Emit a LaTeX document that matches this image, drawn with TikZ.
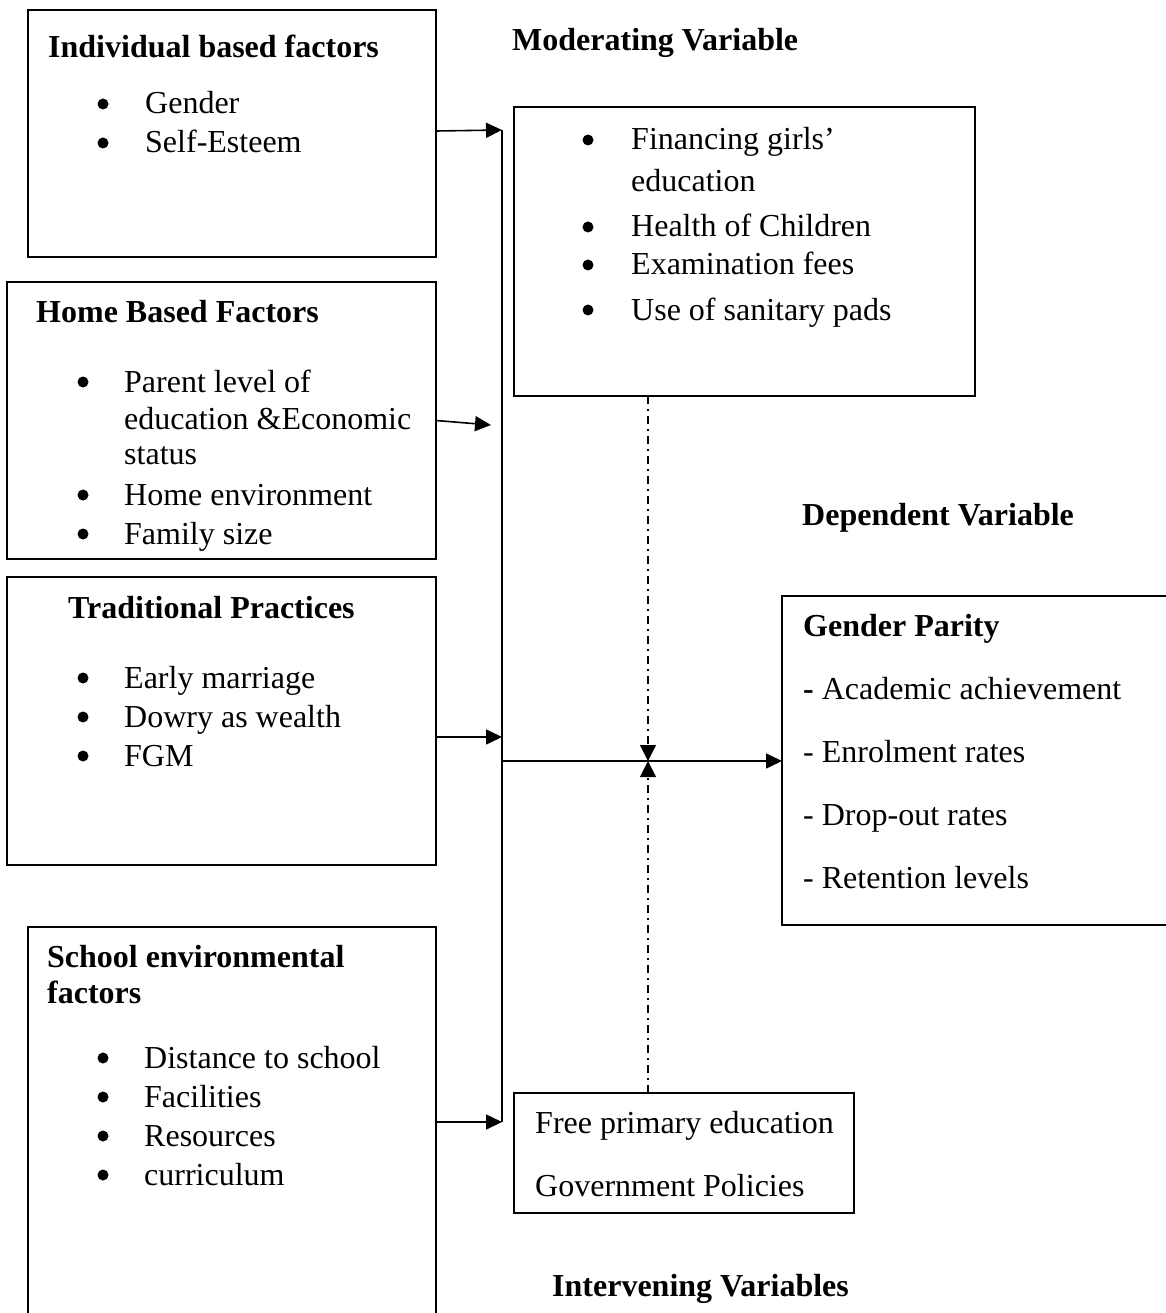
\documentclass[tikz,border=0pt]{standalone}
\usepackage{fontspec}
\setmainfont{Liberation Serif}
\usetikzlibrary{arrows.meta,calc}
\begin{document}
\begin{tikzpicture}[x=1pt,y=-1pt,
  box/.style={draw,line width=1.8pt,rectangle,anchor=north west,inner sep=0pt,outer sep=0pt},
  txt/.style={anchor=base west,inner sep=0pt,font=\fontsize{32}{38}\selectfont},
  ttl/.style={anchor=base west,inner sep=0pt,font=\fontsize{32}{38}\selectfont\bfseries},
  bul/.style={circle,fill,inner sep=0pt,minimum size=11pt,yshift=10pt},
  conn/.style={line width=1.6pt},
  arr/.style={line width=1.6pt,-{Triangle[length=16pt,width=15pt]}},
  dd/.style={line width=1.2pt,dash pattern=on 8pt off 5pt on 2pt off 5pt,-{Triangle[length=16pt,width=16pt]}}]
\useasboundingbox (0,0) rectangle (1165,1313);

% boxes
\node[box,minimum width=408pt,minimum height=247pt] (indiv) at (28,10) {};
\node[box,minimum width=429pt,minimum height=277pt] (home) at (7,282) {};
\node[box,minimum width=429pt,minimum height=288pt] (trad) at (7,577) {};
\node[box,minimum width=408pt,minimum height=400pt] (school) at (28,927) {};
\node[box,minimum width=461pt,minimum height=289pt] (mod) at (514,107) {};
\node[box,minimum width=390pt,minimum height=329pt] (gp) at (782,596) {};
\node[box,minimum width=340pt,minimum height=120pt] (free) at (514,1093) {};

% headings
\node[ttl] (tmod) at (512,51) {Moderating Variable};
\node[ttl] (tdep) at (802,525) {Dependent Variable};
\node[ttl] (tint) at (552,1296) {Intervening Variables};

% individual
\node[ttl] (i0) at (48,58) {Individual based factors};
\node[bul] (ib1) at (103,114) {};
\node[txt] (i1) at (145,114) {Gender};
\node[bul] (ib2) at (103,153) {};
\node[txt] (i2) at (145,153) {Self-Esteem};

% moderating
\node[bul] (mb1) at (588,150) {};
\node[txt] (m1) at (631,150) {Financing girls’};
\node[txt] (m1b) at (631,192) {education};
\node[bul] (mb2) at (588,237) {};
\node[txt] (m2) at (631,237) {Health of Children};
\node[bul] (mb3) at (588,275) {};
\node[txt] (m3) at (631,275) {Examination fees};
\node[bul] (mb4) at (588,320) {};
\node[txt] (m4) at (631,320) {Use of sanitary pads};

% home
\node[ttl] (h0) at (36,322) {Home Based Factors};
\node[bul] (hb1) at (83,392) {};
\node[txt] (h1) at (124,392) {Parent level of};
\node[txt] (h1b) at (124,429) {education \&Economic};
\node[txt] (h1c) at (124,464) {status};
\node[bul] (hb2) at (83,505) {};
\node[txt] (h2) at (124,505) {Home environment};
\node[bul] (hb3) at (83,544) {};
\node[txt] (h3) at (124,544) {Family size};

% traditional
\node[ttl] (t0) at (68,618) {Traditional Practices};
\node[bul] (tb1) at (83,688) {};
\node[txt] (t1) at (124,688) {Early marriage};
\node[bul] (tb2) at (83,727) {};
\node[txt] (t2) at (124,727) {Dowry as wealth};
\node[bul] (tb3) at (83,766) {};
\node[txt] (t3) at (124,766) {FGM};

% gender parity
\node[ttl] (g0) at (803,636) {Gender Parity};
\node[txt] (g1) at (803,699) {\textbf{-} Academic achievement};
\node[txt] (g2) at (803,762) {- Enrolment rates};
\node[txt] (g3) at (803,825) {- Drop-out rates};
\node[txt] (g4) at (803,888) {- Retention levels};

% school
\node[ttl] (s0) at (47,967) {School environmental};
\node[ttl] (s0b) at (47,1003) {factors};
\node[bul] (sb1) at (103,1068) {};
\node[txt] (s1) at (144,1068) {Distance to school};
\node[bul] (sb2) at (103,1107) {};
\node[txt] (s2) at (144,1107) {Facilities};
\node[bul] (sb3) at (103,1146) {};
\node[txt] (s3) at (144,1146) {Resources};
\node[bul] (sb4) at (103,1185) {};
\node[txt] (s4) at (144,1185) {curriculum};

% free primary
\node[txt] (f1) at (535,1133) {Free primary education};
\node[txt] (f2) at (535,1196) {Government Policies};

% connectors
\coordinate (busT) at (502,130);
\coordinate (busB) at (502,1122);
\coordinate (mid) at (502,761);
\coordinate (homeEnd) at (491,425);
\coordinate (tradEnd) at (502,737);
\coordinate (cross) at (648,761);

\draw[conn] (busT) -- (busB);
\draw[arr] ($(indiv.north east)+(0,121)$) -- (busT);
\draw[arr] (home.east) -- (homeEnd);
\draw[arr] ($(trad.north east)+(0,160)$) -- (tradEnd);
\draw[arr] ($(school.north east)+(0,195)$) -- (busB);
\draw[arr] (mid) -- (mid -| gp.west);
\draw[dd] (cross |- mod.south) -- (cross);
\draw[dd] (cross |- free.north) -- (cross);
\end{tikzpicture}
\end{document}
